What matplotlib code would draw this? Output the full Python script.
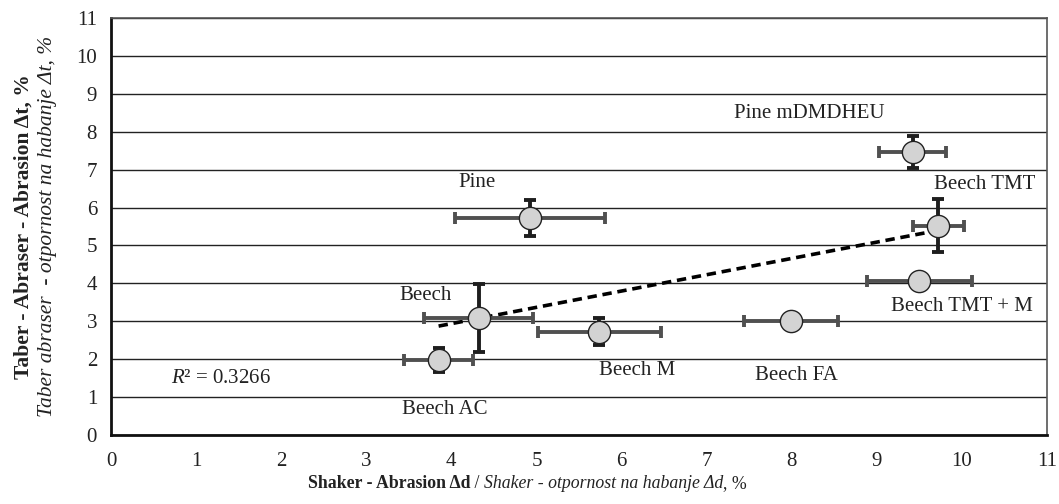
import numpy as np
import matplotlib
matplotlib.use('Agg')
import matplotlib.pyplot as plt

plt.rcParams['font.family'] = ['Liberation Serif', 'DejaVu Serif']
plt.rcParams['mathtext.fontset'] = 'custom'
plt.rcParams['mathtext.rm'] = 'Liberation Serif'
plt.rcParams['mathtext.it'] = 'Liberation Serif:italic'

# data
names = ['Pine', 'Beech', 'Beech AC', 'Beech M', 'Beech FA',
         'Beech TMT + M', 'Beech TMT', 'Pine mDMDHEU']
shaker = [4.92, 4.32, 3.85, 5.74, 7.99, 9.50, 9.72, 9.42]
shaker_err = [0.88, 0.64, 0.41, 0.72, 0.55, 0.62, 0.30, 0.39]
taber = [5.72, 3.08, 1.98, 2.73, 3.02, 4.07, 5.52, 7.47]
taber_err = [0.47, 0.89, 0.32, 0.36, 0.0, 0.0, 0.70, 0.42]
label_pos = [(4.30, 6.66), (3.70, 3.69), (3.92, 0.66), (6.18, 1.71),
             (8.06, 1.58), (10.0, 3.39), (10.27, 6.60), (8.21, 8.47)]

x = np.array(shaker)
y = np.array(taber)

fig = plt.figure(figsize=(10.59, 5.04), dpi=100)
ax = fig.add_axes([0.1048, 0.1369, 0.8839, 0.8274])

# linear trend over all points
k, b = np.polyfit(x, y, 1)
r2 = np.corrcoef(x, y)[0, 1] ** 2
xt = np.array([x.min(), x.max()])
ax.plot(xt, k * xt + b, ls=(0, (2.6, 1.6)), color='black', lw=2.6, zorder=3)

for i in range(len(x)):
    ax.errorbar(x[i], y[i], xerr=shaker_err[i], fmt='none', ecolor='#505050',
                elinewidth=2.8, capsize=4, capthick=2.8, zorder=4)
    if taber_err[i] > 0:
        ax.errorbar(x[i], y[i], yerr=taber_err[i], fmt='none', ecolor='#1e1e1e',
                    elinewidth=2.8, capsize=4, capthick=2.8, zorder=4)
ax.plot(x, y, 'o', ms=16, mfc='#d3d3d3', mec='#222222', mew=1.0, ls='none', zorder=5)

for name, (lx, ly) in zip(names, label_pos):
    ax.text(lx, ly, name, fontsize=15, ha='center', va='center', color='#222222')

ax.text(0.70, 1.50, '$R$² = %.4f' % 0.3266, fontsize=15, ha='left', va='center',
        color='#222222')

ax.set_xlim(0, 11)
ax.set_ylim(0, 11)
ax.set_xticks(range(0, 12))
ax.set_yticks(range(0, 12))
ax.tick_params(length=0, labelsize=15, colors='#222222')
ax.tick_params(axis='x', pad=12)
ax.tick_params(axis='y', pad=10)
ax.yaxis.grid(True, color='#222222', lw=1.0)
ax.set_axisbelow(True)
for s in ['left', 'bottom']:
    ax.spines[s].set_linewidth(2.0)
    ax.spines[s].set_color('#111111')
for s in ['top', 'right']:
    ax.spines[s].set_linewidth(1.2)
    ax.spines[s].set_color('#555555')

# y label, two rotated lines
fig.text(0.0225, 0.5505, 'Taber - Abraser - Abrasion Δt, %', rotation=90, fontsize=15.5,
         fontweight='bold', ha='center', va='center', color='#222222')
fig.text(0.0445, 0.5505, 'Taber abraser  - otpornost na habanje Δt, %', rotation=90,
         fontsize=15.5, style='italic', ha='center', va='center', color='#222222')

# x label built from pieces with different styles
parts = [('Shaker - Abrasion Δd', dict(fontweight='bold')),
         (' / ', {}),
         ('Shaker - otpornost na habanje Δd', dict(style='italic')),
         (', %', {})]
fig.canvas.draw()
renderer = fig.canvas.get_renderer()
texts = []
xpos = 0
for s, kw in parts:
    t = fig.text(xpos, 0.04, s, fontsize=12.8, ha='left', va='center', color='#222222', **kw)
    fig.canvas.draw()
    w = t.get_window_extent(renderer).width / fig.bbox.width
    texts.append((t, w))
    xpos += w
start = 0.498 - xpos / 2
for t, w in texts:
    t.set_x(start)
    start += w

fig.savefig('out.png', dpi=100)
